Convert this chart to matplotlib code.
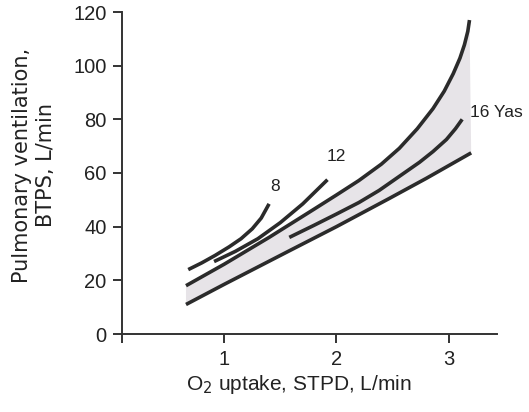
import matplotlib
matplotlib.use("Agg")
import matplotlib.pyplot as plt
import numpy as np

plt.rcParams['font.family'] = ['Liberation Sans', 'DejaVu Sans']

# Adult upper boundary
adult_upper_x = [0.66, 1.0, 1.4, 1.8, 2.0, 2.2, 2.4, 2.56, 2.72, 2.86, 2.96, 3.04, 3.10, 3.14, 3.17, 3.185]
adult_upper_y = [18, 26, 36, 46.5, 51.8, 57.2, 63.3, 69.2, 76.5, 84, 90.5, 97, 102.8, 107.8, 112.8, 117]
# Adult lower boundary
adult_lower_x = [0.66, 1.0, 1.58, 2.0, 2.47, 2.8, 3.2]
adult_lower_y = [11, 18.5, 31, 40, 50.5, 58, 67.5]
# 16 years
y16_x = [1.58, 1.8, 2.0, 2.2, 2.38, 2.5, 2.62, 2.74, 2.86, 2.98, 3.06, 3.12]
y16_y = [36, 40.5, 44.7, 49, 53.5, 57, 60.5, 64, 68, 72.5, 76.5, 80]
# 12 years
y12_x = [0.91, 1.1, 1.3, 1.5, 1.7, 1.92]
y12_y = [27, 30.8, 35.5, 41.5, 48.5, 57.5]
# 8 years
y8_x = [0.68, 0.8, 0.92, 1.045, 1.15, 1.25, 1.33, 1.40]
y8_y = [24, 26.5, 29.3, 32.5, 35.5, 39.2, 43.2, 48.5]

labels = [("8", 1.45, 55), ("12", 2.0, 66), ("16 Yas", 3.19, 82.5)]

fig = plt.figure(figsize=(5.29, 4.12), dpi=100)
ax = fig.add_axes([122/529, 1-334/412, (497-122)/529, (334-12)/412])

lc = '#2b2b2b'
poly_x = np.concatenate([adult_upper_x, adult_lower_x[::-1]])
poly_y = np.concatenate([adult_upper_y, adult_lower_y[::-1]])
ax.fill(poly_x, poly_y, color='#e7e4e8', lw=0, zorder=1)

for xs, ys in [(adult_upper_x, adult_upper_y), (adult_lower_x, adult_lower_y),
               (y16_x, y16_y), (y12_x, y12_y), (y8_x, y8_y)]:
    ax.plot(xs, ys, color=lc, lw=2.6, solid_capstyle='butt', solid_joinstyle='round', zorder=3)

for t, x, y in labels:
    ax.text(x, y, t, fontsize=12.5, color='#222222', ha='center' if t != "16 Yas" else 'left',
            va='center')

ax.set_xlim(0.09, 3.43)
ax.set_ylim(0, 120)
ax.spines['top'].set_visible(False)
ax.spines['right'].set_visible(False)
for s in ['left', 'bottom']:
    ax.spines[s].set_linewidth(1.4)
    ax.spines[s].set_color('#333333')

ax.set_xticks([0.09, 1, 2, 3])
ax.set_xticklabels(['', '1', '2', '3'])
ax.set_yticks([0, 20, 40, 60, 80, 100, 120])
ax.tick_params(axis='both', labelsize=14.5, colors='#333333', labelcolor='#222222', width=1.4)
ax.tick_params(axis='x', direction='out', length=6.5, pad=5)
ax.tick_params(axis='y', direction='out', length=6.5, pad=4.5)

fig.text(299/529, 1-390/412, 'O$_2$ uptake, STPD, L/min', fontsize=15, color='#222222',
         ha='center', va='baseline')
fig.text(34/529, 1-165/412, 'Pulmonary ventilation,\nBTPS, L/min', fontsize=15,
         family=['DejaVu Sans'], color='#222222', rotation=90, ha='center', va='center',
         multialignment='center', linespacing=1.2)

fig.savefig('out.png', dpi=100)
